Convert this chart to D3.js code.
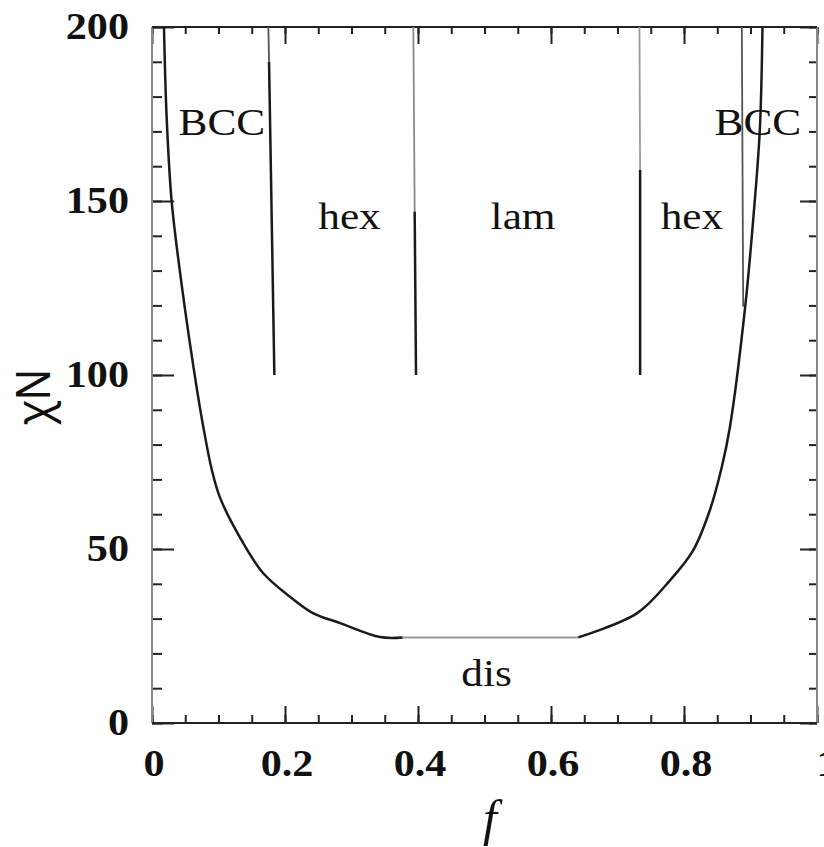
<!DOCTYPE html>
<html>
  <head>
    <title>Phase diagram</title>
    <meta charset="utf-8" />
    <style>
      body {
        margin: 0;
        background: #fff;
      }
      svg text {
        fill: #111;
      }
    </style>
    <script src="https://d3js.org/d3.v7.min.js"></script>
  </head>
  <body>
    <div id="chart"></div>
    <script type="text/javascript">
      // order-disorder boundary, left branch
      var odtLeftF = [0.018, 0.022, 0.0296, 0.045, 0.067, 0.078, 0.09, 0.102, 0.132, 0.167, 0.208, 0.242, 0.283, 0.343, 0.377];
      var odtLeftChiN = [200, 174.2, 149.8, 125.4, 96.6, 84.2, 72.7, 64.9, 53.4, 43.1, 36.2, 31.6, 28.7, 24.7, 24.6];
      // flat middle part (drawn lighter)
      var odtFlatF = [0.377, 0.641];
      var odtFlatChiN = [24.6, 24.6];
      // right branch
      var odtRightF = [0.641, 0.729, 0.779, 0.814, 0.839, 0.857, 0.869, 0.892, 0.904, 0.914, 0.918];
      var odtRightChiN = [24.6, 31.5, 41, 49.7, 61.2, 73.7, 85, 119.6, 144.5, 170.4, 200];

      // order-order boundaries, bottom end and top end
      var boundaryNames = ["BCC/hex", "BCC/hex upper", "hex/lam", "hex/lam upper", "lam/hex", "lam/hex upper", "hex/BCC"];
      var boundaryF0 = [0.184, 0.176, 0.397, 0.395, 0.734, 0.734, 0.889];
      var boundaryChiN0 = [100, 190, 100, 147, 100, 159, 119.6];
      var boundaryF1 = [0.176, 0.175, 0.395, 0.393, 0.734, 0.733, 0.887];
      var boundaryChiN1 = [190, 200, 147, 200, 159, 200, 200];
      var boundaryShade = ["#1a1a1a", "#555", "#1a1a1a", "#8a8a8a", "#1a1a1a", "#9a9a9a", "#555"];

      // region labels
      var regionLabels = ["BCC", "hex", "lam", "hex", "BCC", "dis"];
      var regionF = [0.105, 0.297, 0.558, 0.812, 0.911, 0.503];
      var regionChiN = [169, 142, 142, 142, 169, 10.5];

      var xTickValues = [0, 0.2, 0.4, 0.6, 0.8, 1];
      var xTickLabels = ["0", "0.2", "0.4", "0.6", "0.8", "1"];
      var yTickValues = [0, 50, 100, 150, 200];
      var yTickLabels = ["0", "50", "100", "150", "200"];

      var w = 824;
      var h = 847;
      var sx = 1.14; // glyphs in the source are stretched a bit

      var x = d3.scaleLinear().domain([0, 1]).range([152, 817]);
      var y = d3.scaleLinear().domain([0, 200]).range([723, 27]);

      var svg = d3.select("#chart").append("svg").attr("width", w).attr("height", h);

      // ticks (inward, all four sides)
      function tickAxis(axis, tx, ty) {
        var g = svg.append("g").attr("transform", "translate(" + tx + "," + ty + ")").call(axis);
        g.select(".domain").remove();
        g.selectAll(".tick line").attr("stroke", "#222").attr("stroke-width", 2);
        g.selectAll(".tick text").remove();
        return g;
      }
      var minorX = d3.range(0, 1.0001, 0.05);
      var minorY = d3.range(0, 200.001, 10);

      tickAxis(d3.axisBottom(x).tickValues(minorX).tickSize(-8), 0, y(0));
      tickAxis(d3.axisBottom(x).tickValues(xTickValues).tickSize(-17), 0, y(0));
      tickAxis(d3.axisTop(x).tickValues(minorX).tickSize(-7), 0, y(200));
      tickAxis(d3.axisTop(x).tickValues(xTickValues).tickSize(-17), 0, y(200));
      tickAxis(d3.axisLeft(y).tickValues(minorY).tickSize(-10), x(0), 0);
      tickAxis(d3.axisLeft(y).tickValues(yTickValues).tickSize(-22), x(0), 0);
      tickAxis(d3.axisRight(y).tickValues(minorY).tickSize(-8), x(1), 0);
      tickAxis(d3.axisRight(y).tickValues(yTickValues).tickSize(-17), x(1), 0);

      // frame
      var frame = svg.append("g").attr("fill", "none").attr("stroke-width", 2);
      frame.append("line").attr("x1", x(0)).attr("x2", x(0)).attr("y1", y(0)).attr("y2", y(200)).attr("stroke", "#888");
      frame.append("line").attr("x1", x(1)).attr("x2", x(1)).attr("y1", y(0)).attr("y2", y(200)).attr("stroke", "#888");
      frame.append("line").attr("x1", x(0)).attr("x2", x(1)).attr("y1", y(200)).attr("y2", y(200)).attr("stroke", "#222");
      frame.append("line").attr("x1", x(0)).attr("x2", x(1)).attr("y1", y(0)).attr("y2", y(0)).attr("stroke", "#222");

      // order-disorder curve
      var line = d3
        .line()
        .x(function (d) { return x(d[0]); })
        .y(function (d) { return y(d[1]); })
        .curve(d3.curveCatmullRom.alpha(0.5));

      svg.append("path")
        .datum(d3.zip(odtLeftF, odtLeftChiN))
        .attr("d", line)
        .attr("fill", "none")
        .attr("stroke", "#1a1a1a")
        .attr("stroke-width", 2.5);
      svg.append("path")
        .datum(d3.zip(odtFlatF, odtFlatChiN))
        .attr("d", line)
        .attr("fill", "none")
        .attr("stroke", "#999")
        .attr("stroke-width", 2);
      svg.append("path")
        .datum(d3.zip(odtRightF, odtRightChiN))
        .attr("d", line)
        .attr("fill", "none")
        .attr("stroke", "#1a1a1a")
        .attr("stroke-width", 2.5);

      // order-order boundaries
      svg.append("g")
        .selectAll("line")
        .data(boundaryNames)
        .enter()
        .append("line")
        .attr("x1", function (d, i) { return x(boundaryF0[i]); })
        .attr("y1", function (d, i) { return y(boundaryChiN0[i]); })
        .attr("x2", function (d, i) { return x(boundaryF1[i]); })
        .attr("y2", function (d, i) { return y(boundaryChiN1[i]); })
        .attr("stroke", function (d, i) { return boundaryShade[i]; })
        .attr("stroke-width", function (d, i) { return boundaryShade[i] == "#1a1a1a" ? 2.5 : 1.8; });

      // region labels
      svg.append("g")
        .selectAll("text")
        .data(regionLabels)
        .enter()
        .append("text")
        .attr("transform", function (d, i) {
          return "translate(" + x(regionF[i]) + "," + y(regionChiN[i]) + ")scale(" + sx + ",1)";
        })
        .attr("text-anchor", "middle")
        .attr("font-family", "Liberation Serif")
        .attr("font-size", 38)
        .text(function (d) { return d; });

      // tick labels
      svg.append("g")
        .selectAll("text")
        .data(xTickValues)
        .enter()
        .append("text")
        .attr("transform", function (d, i) {
          var off = i == xTickValues.length - 1 ? 10 : 2;
          return "translate(" + (x(d) + off) + ",776)scale(" + sx + ",1)";
        })
        .attr("text-anchor", "middle")
        .attr("font-family", "Liberation Serif")
        .attr("font-weight", "bold")
        .attr("font-size", 37)
        .text(function (d, i) { return xTickLabels[i]; });

      svg.append("g")
        .selectAll("text")
        .data(yTickValues)
        .enter()
        .append("text")
        .attr("transform", function (d) {
          return "translate(129," + (y(d) + 12) + ")scale(" + sx + ",1)";
        })
        .attr("text-anchor", "end")
        .attr("font-family", "Liberation Serif")
        .attr("font-weight", "bold")
        .attr("font-size", 37)
        .text(function (d, i) { return yTickLabels[i]; });

      // axis titles
      svg.append("text")
        .attr("transform", "translate(50,397)scale(" + sx + ",1)rotate(-90)")
        .attr("text-anchor", "middle")
        .attr("font-family", "Noto Sans")
        .attr("font-size", 42)
        .text("χN");

      svg.append("text")
        .attr("transform", "translate(490,835)")
        .attr("text-anchor", "middle")
        .attr("font-family", "Liberation Serif")
        .attr("font-style", "italic")
        .attr("font-size", 50)
        .text("f");
    </script>
  </body>
</html>
